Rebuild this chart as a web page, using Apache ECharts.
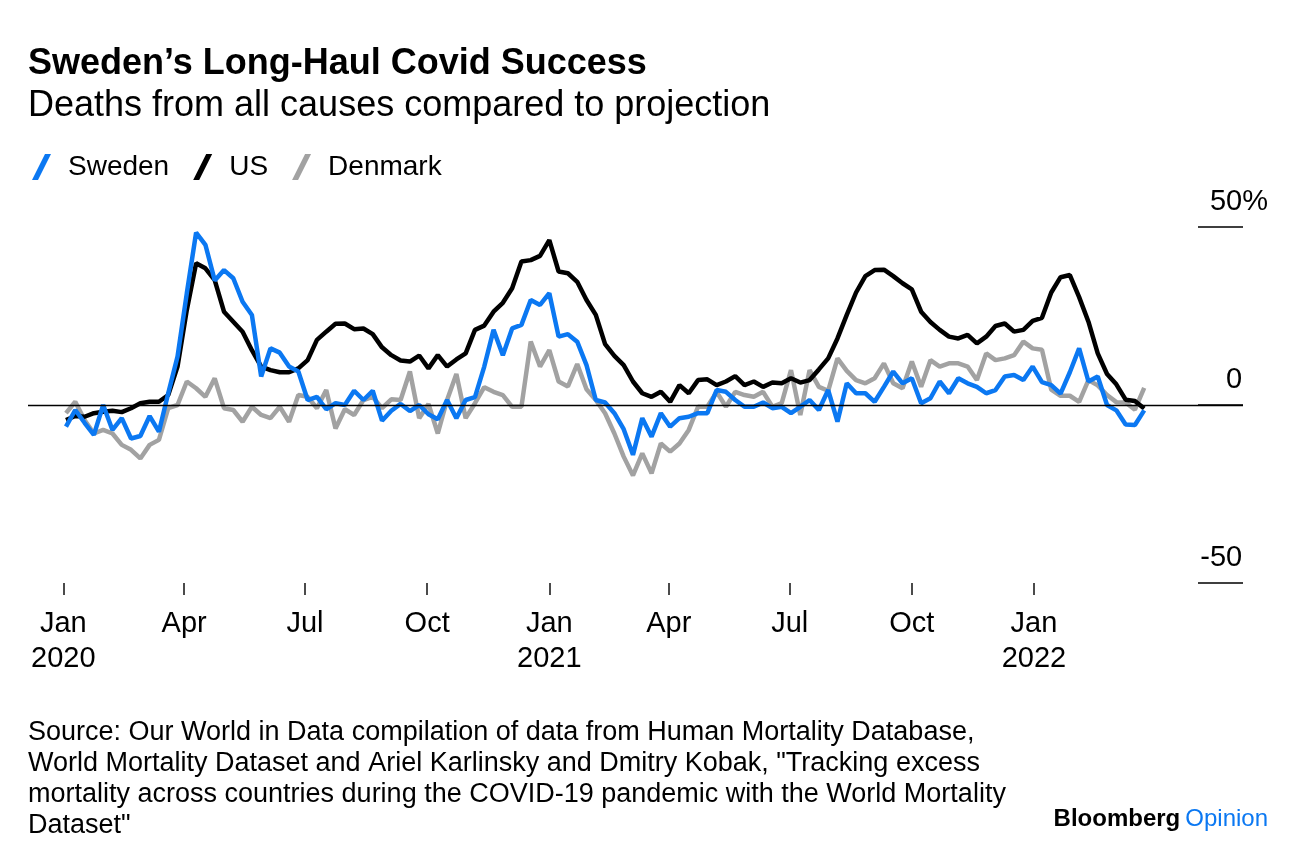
<!DOCTYPE html>
<html><head><meta charset="utf-8">
<script src="https://cdn.jsdelivr.net/npm/echarts@6/dist/echarts.min.js"></script>
<style>html,body{margin:0;padding:0;background:#fff}#c{width:1296px;height:862px}</style>
</head><body><div id="c"></div>
<script>
// Weekly excess deaths (% above projection); first observation date (UTC) and weekly step
const firstWeek = [2020, 0, 3];
const sweden = [-6.1,-1.4,-5,-8.4,0,-7,-3.7,-9.4,-8.7,-3.1,-7.5,3.3,13.6,31.4,48.4,45,35,37.9,35.6,29,25.3,8,15.9,14.7,10.8,9.4,1.4,2.3,-1.2,0.5,0,4,1.4,4,-4.4,-1.6,0.3,-1.7,0,-2.6,-4,1.4,-3.7,1.4,2.2,10.8,21.1,14,21.5,22.5,29.5,28.1,31.4,19.2,19.9,17.8,11.2,1.4,0.7,-2.3,-6.8,-14,-3.7,-8.9,-2.3,-6.1,-3.7,-3.3,-2.3,-2.3,4.2,3.7,1.4,-0.5,-0.5,0.7,-0.9,-0.5,-2.3,-0.5,1.4,-1.4,4.2,-4.7,6.1,3.3,3.3,0.9,5.1,9.4,6.1,7.5,0.5,1.9,6.6,3.3,7.5,6.1,5.1,3.3,4.2,8,8.4,7,10.8,6.4,5.6,3.2,9.2,15.9,6.6,8,0,-1.5,-5.5,-5.6,-1.5];
const us = [-4.2,-3.1,-3.3,-2.3,-1.9,-1.6,-2,-0.9,0.5,0.9,0.9,2.8,10.8,26.7,39.8,38.4,35.1,26.2,23.4,20.6,15.4,10.8,9.8,9.2,9.2,10.3,12.6,18.3,20.6,22.8,22.9,21.3,21.5,19.9,16.2,14,12.5,12.2,13.9,10.3,14,10.8,12.8,14.5,21.1,22.3,26.2,28.7,32.8,40.3,40.7,41.9,46.3,37.5,37,34.6,29.5,25.3,17.1,13.8,11.2,6.6,3.3,2.3,3.7,0.9,5.6,3.3,7,7.2,5.6,6.6,8.1,5.6,6.6,5.1,6.3,6.1,7.5,6.3,7,10,13.1,18.7,25.3,31.6,36.2,37.9,38,36.2,34.2,32.5,26.2,23.3,21.1,19.2,18.7,19.7,17.3,19.2,22.2,22.9,20.6,21.1,23.6,24.5,31.6,35.9,36.5,30.3,23.4,14.5,8.7,5.8,1.5,1.1,-1];
const denmark = [-2.3,0.9,-4.2,-8,-7,-8,-11.2,-12.6,-15,-11.2,-9.8,-0.9,0,6.6,4.7,2.3,7.5,-0.9,-1.4,-4.7,-0.5,-2.8,-3.7,-0.5,-4.7,2.8,2.3,-0.9,4.2,-6.6,-1.2,-2.8,1.4,2.3,-0.9,1.6,1.4,9.4,-3.7,0.3,-8,1.4,8.7,-3.7,0.5,5,3.7,2.8,-0.5,-0.5,17.8,10.8,15.4,6.6,5.2,11.5,4.4,1.4,-2.3,-8,-14.5,-19.8,-13.6,-19.2,-10.8,-13.1,-10.8,-7,-0.5,-0.5,3.7,-0.5,3.7,2.8,2.3,3.7,-0.5,0.5,9.8,-2.8,9.8,5.1,4,13.1,9.6,7,6.1,7.5,11.7,6.1,4.7,12.2,5.1,12.6,10.8,11.7,11.7,10.8,7,14.5,12.6,13.1,14,17.8,15.9,15.5,4.3,2.6,2.6,0.9,7,5.5,2.8,0.8,0.7,-1.3,4.8];
const tickDates = [[2020,0,1],[2020,3,1],[2020,6,1],[2020,9,1],[2021,0,1],[2021,3,1],[2021,6,1],[2021,9,1],[2022,0,1]];
const tickLabels = ['Jan\n2020','Apr','Jul','Oct','Jan\n2021','Apr','Jul','Oct','Jan\n2022'];
const yTicks = [-50, 0, 50];
const axisRangeDays = [-26.6, 888.4]; // days relative to 1 Jan 2020

const FONT = '"Liberation Sans", Arial, sans-serif';
const BLUE = '#0b78f2', BLACK = '#000000', GREY = '#a2a2a2';

const DAY = 864e5, ORIGIN = Date.UTC(2020, 0, 1);
const dayOf = a => Math.round((Date.UTC(a[0], a[1], a[2]) - ORIGIN) / DAY);
const firstDay = dayOf(firstWeek);
const toPairs = arr => arr.map((v, i) => [firstDay + 7 * i, v]);
const tickDays = tickDates.map(dayOf);

const chart = echarts.init(document.getElementById('c'), null, {renderer: 'canvas'});
chart.setOption({
  animation: false,
  backgroundColor: '#fff',
  textStyle: {fontFamily: FONT},
  title: [
    {text: 'Sweden\u2019s Long-Haul Covid Success', left: 28, top: 46, padding: 0,
     textStyle: {fontFamily: FONT, fontSize: 36, fontWeight: 'bold', color: '#000'}},
    {text: 'Deaths from all causes compared to projection', left: 28, top: 88, padding: 0,
     textStyle: {fontFamily: FONT, fontSize: 36, fontWeight: 'normal', color: '#000'}},
    {text: 'Source: Our World in Data compilation of data from Human Mortality Database,\nWorld Mortality Dataset and Ariel Karlinsky and Dmitry Kobak, "Tracking excess\nmortality across countries during the COVID-19 pandemic with the World Mortality\nDataset"',
     left: 28, top: 717, padding: 0,
     textStyle: {fontFamily: FONT, fontSize: 27, lineHeight: 31, fontWeight: 'normal', color: '#000'}},
    {text: '{b|Bloomberg} {o|Opinion}', right: 28, top: 807, padding: 0,
     textStyle: {rich: {
       b: {fontFamily: FONT, fontSize: 24, fontWeight: 'bold', color: '#000'},
       o: {fontFamily: FONT, fontSize: 24, fontWeight: 'normal', color: BLUE}}}}
  ],
  legend: {
    left: 27, top: 148, itemWidth: 19, itemHeight: 26, itemGap: 24,
    icon: 'path://M0,26L13,0L19,0L6,26Z',
    data: ['Sweden', 'US', 'Denmark'],
    textStyle: {fontFamily: FONT, fontSize: 28, color: '#000', padding: [0, 0, 0, 12]}
  },
  grid: {left: 28, right: 53, top: 227, bottom: 279, outerBoundsMode: 'none'},
  xAxis: {
    type: 'value', min: axisRangeDays[0], max: axisRangeDays[1],
    axisLine: {show: false, onZero: false}, splitLine: {show: false},
    axisTick: {show: true, length: 12, customValues: tickDays, lineStyle: {color: '#111', width: 1.5}},
    axisLabel: {
      customValues: tickDays, margin: 23, fontFamily: FONT, fontSize: 29, color: '#000', lineHeight: 35,
      formatter: v => { const k = tickDays.indexOf(Math.round(v)); return k >= 0 ? tickLabels[k] : ''; }
    }
  },
  yAxis: {
    type: 'value', position: 'right', min: yTicks[0], max: yTicks[2], interval: 50,
    axisLine: {show: false, onZero: false}, splitLine: {show: false},
    axisTick: {show: true, inside: true, length: 45, lineStyle: {color: '#000', width: 1.5}},
    axisLabel: {
      margin: 25, align: 'right', verticalAlign: 'bottom', padding: [0, 0, 11, 0],
      formatter: v => v === yTicks[2] ? '{n|' + v + '}{p|%}' : '{n|' + v + '}{h|%}',
      rich: {
        n: {fontFamily: FONT, fontSize: 29, color: '#000'},
        p: {fontFamily: FONT, fontSize: 29, color: '#000'},
        h: {fontFamily: FONT, fontSize: 29, color: 'rgba(0,0,0,0)'}
      }
    }
  },
  series: [
    {name: 'Denmark', type: 'line', showSymbol: false, symbol: 'none', data: toPairs(denmark),
     itemStyle: {color: GREY}, lineStyle: {color: GREY, width: 4.5},
     markLine: {silent: true, symbol: ['none', 'none'], label: {show: false},
       lineStyle: {color: '#000', width: 1.3, type: 'solid'}, data: [{yAxis: 0}]}},
    {name: 'US', type: 'line', showSymbol: false, symbol: 'none', data: toPairs(us),
     itemStyle: {color: BLACK}, lineStyle: {color: BLACK, width: 4.5}},
    {name: 'Sweden', type: 'line', showSymbol: false, symbol: 'none', data: toPairs(sweden),
     itemStyle: {color: BLUE}, lineStyle: {color: BLUE, width: 4.5}}
  ]
});
</script></body></html>
